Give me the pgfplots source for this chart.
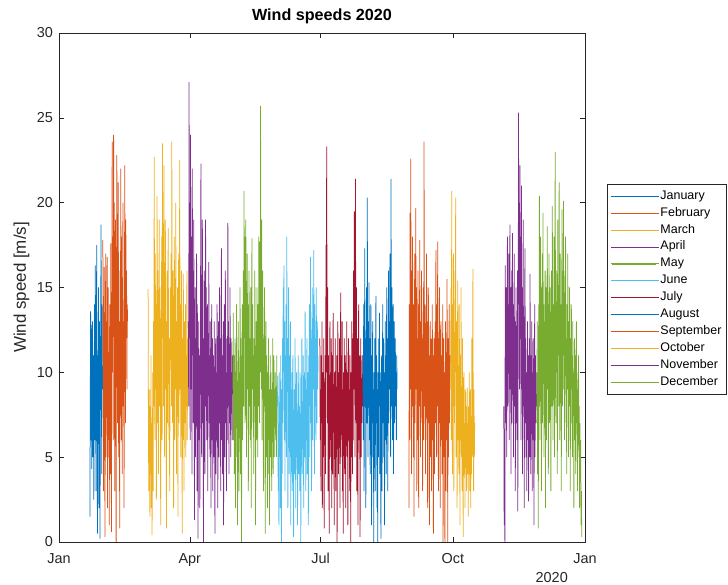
\documentclass[border=0pt]{standalone}
\usepackage{fontspec}
\setmainfont{Liberation Sans}
\usepackage{pgfplots}
\pgfplotsset{compat=1.18}

\definecolor{c1}{HTML}{0072BD}
\definecolor{c2}{HTML}{D95319}
\definecolor{c3}{HTML}{EDB120}
\definecolor{c4}{HTML}{7E2F8E}
\definecolor{c5}{HTML}{77AC30}
\definecolor{c6}{HTML}{4DBEEE}
\definecolor{c7}{HTML}{A2142F}
\definecolor{axgray}{RGB}{38,38,38}

% wind speed samples, every 6 hours; x = day of year
\pgfplotsset{
  wind/.style={line width=0.75bp},
}

\begin{document}
\begin{tikzpicture}
\path[use as bounding box] (0,0) rectangle (728bp,585bp);
\begin{axis}[
  name=ax,
  at={(59bp,43bp)}, anchor=south west,
  scale only axis, width=526bp, height=509bp,
  xmin=0, xmax=366, ymin=0, ymax=30,
  xtick={0,91,182,274,366},
  xticklabels={Jan,Apr,Jul,Oct,Jan},
  ytick={0,5,10,15,20,25,30},
  tick align=inside, major tick length=5bp,
  axis line style={draw=axgray, line width=0.5bp},
  tick style={draw=axgray, line width=0.5bp},
  /pgf/number format/assume math mode=true,
  ticklabel style={font=\fontsize{14.5}{17}\selectfont, text=axgray},
  xticklabel style={anchor=base, yshift=-21bp},
  yticklabel style={anchor=east, xshift=-2.5bp},
  title={\textbf{Wind speeds 2020}},
  title style={font=\fontsize{16.2}{19}\selectfont, at={(axis description cs:0.5,1)}, anchor=base, yshift=7bp},
  ylabel={Wind speed [m/s]},
  ylabel style={font=\fontsize{17}{20}\selectfont, text=axgray, at={(axis description cs:-0.0713,0.5)}, anchor=center},
  legend style={at={(1.0418,0.7033)}, anchor=north west, draw=axgray, line width=0.5bp,
    font=\fontsize{12.5}{15}\selectfont, inner xsep=3.5bp, inner ysep=5bp, row sep=2.9bp,
    nodes={inner sep=1bp, text height=9bp, text depth=3bp}},
  legend cell align=left,
  legend image code/.code={\draw[#1, line width=0.7bp] (1bp,0bp) -- (45bp,0bp); \path (0bp,0bp) -- (48bp,0bp);},
]
% January
\addplot[c1, wind] table[header=false, x expr={21.5+0.25*\coordindex}, y index=0] {
1.5
8
13.6
6
12.8
4.3
9
13
5
11
7
2.5
10
14
6
16.3
9
3
12
17.5
8
0.5
11
6
15
2
9
13
0.2
7
12
18.7
10
4
14
9
};
\addlegendentry{January}
% February
\addplot[c2, wind] table[header=false, x expr={30.5+0.25*\coordindex}, y index=0] {
17.8
9
3
12
16.2
7
0.3
10
17
5
13
8
16.8
2
11
15
6
9
1
14
12
4
17.6
8
0.6
13
23.6
10
18
6
24
15
20
3
12
19
8
0
14
22.8
11
7
17
21.2
5
13
9
0.8
16
12
22
6
18
10
4
15
20
8
13
2
11
22.2
14
7
19
12
16
9
14
13
};
\addlegendentry{February}
% March
\addplot[c3, wind] table[header=false, x expr={62+0.25*\coordindex}, y index=0] {
14.9
6
3
9
5
1.5
8
4
11
2
7
0.4
5
10
3
13
8
22.7
12
6
17
9
14
2.5
11
20.4
7
16
10
4
13
19
8
15
11
1
9
14
18
6
23.5
12
17
8
22.2
10
5
15
19
9
13
0.8
11
16
7
14
18.5
10
6
12
3
9
15
11
17
8
23.6
13
7
16
10
2
12
18
6
14
9
20
11
4
13
8
15
1.5
10
17
7
12
22.5
9
14
5
11
16
8
0.5
12
6
15.8
10
3
13
9
7
14
5
11
8
16
6
12
9
};
\addlegendentry{March}
% April
\addplot[c4, wind] table[header=false, x expr={90+0.25*\coordindex}, y index=0] {
13
8
27.1
12
20
6
24
15
9
18
4
22
11
16
7
19
13
1.3
10
15
5
12
8
17
3
14
10
0.2
9
13
6
11
2
8
15
22.3
10
5
14
19
7
12
0
9
16
11
4
13
19
8
15
6
10
14
3
12
9
16.5
7
11
5
13
8
2
10
14
6
12
3
9
11
5
13
7
0.5
8
12
4
10
6
14
9
2
11
13
5
8
15
7
12
3
10
17.3
6
11
4
9
13
1
8
14
5
11
16
7
10
3
12
6
9
18.8
8
13
4
11
7
15
9
5
12
8
10
6
11
};
\addlegendentry{April}
% May
\addplot[c5, wind] table[header=false, x expr={121+0.25*\coordindex}, y index=0] {
9
13.5
6
11
4
8
12
2
10
7
14
5
9
1
11
13
6
3
10
8
15
4
12
7
0
9
14
6
11
16
8
20.7
12
18
7
15
19
10
5
13
17
9
14
3
11
16
8
12
6
10
15
2
13
17.9
9
14
7
11
4
12
8
16
10
1
9
13
6
15
11
5
14
8
18
12
7
17.7
10
25.7
14
9
19
6
13
16
11
3
12
8
15
10
0.5
9
13
5
11
7
2
10
6
12
4
9
1
8
11
5
10
7
3
9
6
12
4
8
11
5
9
7
10
6
8
5
11
7
};
\addlegendentry{May}
% June
\addplot[c6, wind] table[header=false, x expr={152+0.25*\coordindex}, y index=0] {
8
9.8
3
7
1
10
5
8
2
11
6
0
9
4
12
7
15
10
16.3
6
13
3
11
8
14
5
18
9
12
2
10
15
7
4
11
8
13
1
9
6
10
3
8
11
5
0.3
7
9
4
12
6
2
8
10
5
7
1
9
11
4
6
8
3
10
7
0
5
9
12
4
8
6
11
2
7
10
5
13.6
8
3
9
6
12
4
10
7
1
11
8
14
5
9
16.8
7
12
3
10
15
6
13
9
17.2
11
4
14
8
12
6
15
10
7
13
9
11
};
\addlegendentry{June}
% July
\addplot[c7, wind] table[header=false, x expr={181.5+0.25*\coordindex}, y index=0] {
12
6
9
3
11
7
13
2
8
10
5
12
0.8
9
6
11
4
17.5
10
23.3
13
7
15
3
11
8
0.5
9
13
5
10
6
12
2
8
11
4
13.5
7
9
1
10
6
12
3
8
5
11
0
7
13
9
4
10
6
12
2
8
14.7
5
11
7
13
3
9
0.5
10
6
12
4
8
11
2
9
7
13
5
10
1
8
12
6
9
3
11
7
0
10
5
13
8
4
12
6
16
9
19.5
11
5
21.4
13
7
15
3
10
12
1
9
14
6
11
8
0.3
10
12
5
9
7
11
8
};
\addlegendentry{July}
% August
\addplot[c1, wind] table[header=false, x expr={211.5+0.25*\coordindex}, y index=0] {
11
6
14
3
9
17.3
8
12
2
10
15
7
20.3
11
5
13
9
15.3
6
12
4
10
14
8
1
11
7
13
5
9
0
10
6
12
3
8
14.5
7
11
2
9
0
10
5
12
8
13.5
4
10
6
0.2
9
11
3
8
14
7
12
5
10
1
9
13
6
11
4
15
8
12
3
10
16
7
13
9
17
11
5
21.4
12
8
15
6
11
14
4
10
13
7
9
12
8
10
6
11
9
};
\addlegendentry{August}
% September
\addplot[c2, wind] table[header=false, x expr={243.5+0.25*\coordindex}, y index=0] {
2
14
6
19.4
9
22.6
12
4
16
8
18
11
5
14
1.5
10
17
7
13
19.7
9
15
3
12
6
16
10
2
14
8
17.8
11
5
13
9
16
7
12
3
10
15
6
23.6
11
8
14
4
12
9
17
6
13
2
10
15
7
11
1
9
13
5
12
8
3
10
14
6
11
0.5
8
12
4
9
13
7
17.2
10
5
14
8
17.7
11
3
12
7
15
9
2
10
13
6
11
4
8
14
0
9
12
5
10
0
7
13
3
11
6
15.5
8
0
12
5
9
14
7
10
11
};
\addlegendentry{September}
% October
\addplot[c3, wind] table[header=false, x expr={272.5+0.25*\coordindex}, y index=0] {
9
15
6
20.7
12
4
14
8
17
3
11
7
16
10
20.3
5
13
9
2
12
15.4
6
10
4
14
8
1
11
7
15
5
9
3
12
6
0.3
8
10
4
7
2
9
5
8
3
6
9.1
4
7
1.5
8
5
10
3
6
9
2
7
4
12
5
8
16.1
6
3
9
5
7
};
\addlegendentry{October}
% November
\addplot[c4, wind] table[header=false, x expr={309.5+0.25*\coordindex}, y index=0] {
8
1
4
0
16.3
7
12
15
5
10
18
8
14
11
17
6
13
18.7
9
15
4
12
16
7
18.2
10
14
5
11
17
8
13
3
10
15
7
12
6
16
1.8
11
25.3
14
20
9
22.2
12
18
6
21
10
15
4
13
19
8
11
2
14
17.3
7
12
5
10
3
9
13
6
11
2.4
8
12
5
15.8
9
4
11
7
13
3
10
6
12
8
1
9
14
5
11
7
10
8
};
\addlegendentry{November}
% December
\addplot[c5, wind] table[header=false, x expr={332.5+0.25*\coordindex}, y index=0] {
7
13
4
10
0.8
14
8
20.4
11
6
18
9
15
3
12
17
7
19.4
10
14
5
13
8
16
2
11
15
6
12
18.6
9
14
4
13
17
7
11
15
9
3
12
16
8
19.8
11
6
14
10
18
5
13
23
12
7
16
10
14
4
19
11
15
8
21.2
13
6
17
10
14
3
12
19.6
8
15
11
20.1
9
13
6
16
10
18
7
12
4
14
9
17
11
5
13
8
15
10
3
12
7
14
9
11
5
13
8
10
2
9
12
6
11
4
8
13
7
10
3
9
6
11
5
8
2
7
4
6
1
3
0.3
};
\addlegendentry{December}
\end{axis}
% year label under the last date tick
\node[anchor=base east, font=\fontsize{14.5}{17}\selectfont, text=axgray, inner sep=0pt] at ([xshift=-17bp, yshift=-40bp]ax.south east) {2020};
\end{tikzpicture}
\end{document}
